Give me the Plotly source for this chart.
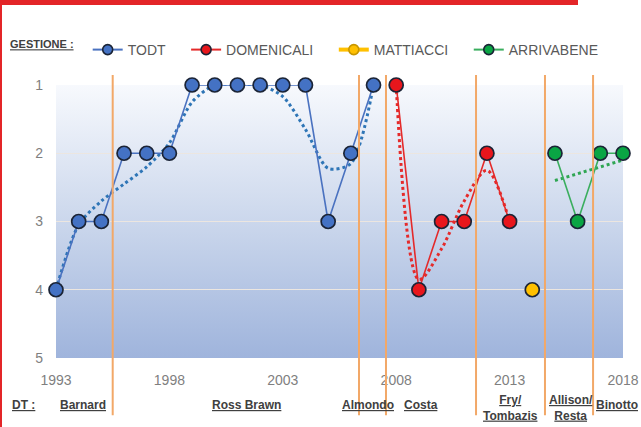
import base64
import plotly.graph_objects as go

# ---------------- data ----------------
todt_years = [1993, 1994, 1995, 1996, 1997, 1998, 1999, 2000, 2001, 2002, 2003, 2004, 2005, 2006, 2007]
todt_pos = [4, 3, 3, 2, 2, 2, 1, 1, 1, 1, 1, 1, 3, 2, 1]
todt_trend = [4.0, 3.05, 2.7, 2.45, 2.2, 1.85, 1.25, 1.0, 1.0, 1.0, 1.17, 1.65, 2.22, 2.15, 1.0]

dome_years = [2008, 2009, 2010, 2011, 2012, 2013]
dome_pos = [1, 4, 3, 3, 2, 3]
dome_trend = [1.0, 3.85, 3.4, 2.7, 2.25, 3.0]

matt_years = [2014]
matt_pos = [4]

arri_years = [2015, 2016, 2017, 2018]
arri_pos = [2, 3, 2, 2]
arri_trend_years = [2015, 2018]
arri_trend = [2.4, 2.1]

# vertical separators between technical directors (years)
dt_breaks = [1995.5, 2006.36, 2007.55, 2011.52, 2014.56, 2016.68]
dt_names = ["Barnard", "Ross Brawn", "Almondo", "Costa", "Fry/<br>Tombazis", "Allison/<br>Resta", "Binotto"]
dt_centers = [1994.2, 2001.42, 2006.76, 2009.09, 2013.06, 2015.71, 2017.74]

series_names = ["TODT", "DOMENICALI", "MATTIACCI", "ARRIVABENE"]

W, H = 641, 427
FONT = "Liberation Sans, Arial, sans-serif"
NB = "\u00a0"

C_TODT, C_DOME, C_MATT, C_ARRI = "#4472C4", "#E8161C", "#FFC000", "#0AA544"
L_TODT, L_DOME, L_ARRI = "#4A72C0", "#E42A2A", "#3AAE5E"

fig = go.Figure()

# trend lines (dotted)
fig.add_trace(go.Scatter(x=todt_years, y=todt_trend, mode="lines", line=dict(color="#2E75B6", width=3, dash="dot", shape="spline", smoothing=0.8), showlegend=False, hoverinfo="skip", cliponaxis=False))
fig.add_trace(go.Scatter(x=dome_years, y=dome_trend, mode="lines", line=dict(color="#E52A2A", width=3, dash="dot", shape="spline", smoothing=0.9), showlegend=False, hoverinfo="skip", cliponaxis=False))
fig.add_trace(go.Scatter(x=arri_trend_years, y=arri_trend, mode="lines", line=dict(color="#2FA653", width=3, dash="dot"), showlegend=False, hoverinfo="skip", cliponaxis=False))

mk_line = dict(color="#1B2436", width=1.7)
fig.add_trace(go.Scatter(x=todt_years, y=todt_pos, mode="lines+markers", showlegend=False,
                         line=dict(color=L_TODT, width=1.6),
                         marker=dict(size=14, color=C_TODT, line=mk_line), cliponaxis=False))
fig.add_trace(go.Scatter(x=dome_years, y=dome_pos, mode="lines+markers", showlegend=False,
                         line=dict(color=L_DOME, width=1.6),
                         marker=dict(size=14, color=C_DOME, line=mk_line), cliponaxis=False))
fig.add_trace(go.Scatter(x=matt_years, y=matt_pos, mode="lines+markers", showlegend=False,
                         line=dict(color=C_MATT, width=3),
                         marker=dict(size=14, color=C_MATT, line=mk_line), cliponaxis=False))
fig.add_trace(go.Scatter(x=arri_years, y=arri_pos, mode="lines+markers", showlegend=False,
                         line=dict(color=L_ARRI, width=1.6),
                         marker=dict(size=14, color=C_ARRI, line=mk_line), cliponaxis=False))

# legend entries (smaller symbols like the reference)
leg_styles = [
    (L_TODT, 2, C_TODT, "#1B2436"),
    (L_DOME, 2, C_DOME, "#1B2436"),
    (C_MATT, 4, C_MATT, "#C89600"),
    (L_ARRI, 2, C_ARRI, "#1B2436"),
]
for name, (lc, lw, mc, mlc) in zip(series_names, leg_styles):
    fig.add_trace(go.Scatter(x=[None], y=[None], mode="lines+markers", name=name + NB * 4,
                             line=dict(color=lc, width=lw),
                             marker=dict(size=10, color=mc, line=dict(color=mlc, width=1.6))))

shapes = []
# director change lines
for b in dt_breaks:
    shapes.append(dict(type="line", xref="x", yref="paper", x0=b, x1=b, y0=-0.21, y1=1.037,
                       line=dict(color="#F2A868", width=2), layer="above"))
# red frame bits
shapes.append(dict(type="rect", xref="paper", yref="paper",
                   x0=-56 / 567, x1=(578 - 56) / 567, y0=(358 - 0) / 273, y1=(358 - 5) / 273,
                   fillcolor="#E32528", line=dict(width=0)))
shapes.append(dict(type="rect", xref="paper", yref="paper",
                   x0=-56 / 567, x1=(2 - 56) / 567, y0=(358 - 0) / 273, y1=(358 - 427) / 273,
                   fillcolor="#E32528", line=dict(width=0)))

annotations = [dict(text="<b><u>DT :</u></b>", xref="paper", yref="paper",
                    x=(10 - 56) / 567, y=(358 - 405) / 273, xanchor="left", yanchor="middle",
                    showarrow=False, font=dict(family=FONT, size=12, color="#404040"))]
for name, cx in zip(dt_names, dt_centers):
    two = "<br>" in name
    annotations.append(dict(text="<b><u>" + name.replace("<br>", "</u></b><br><b><u>") + "</u></b>",
                            xref="x", yref="paper", x=cx, y=(358 - (408 if two else 405)) / 273,
                            xanchor="center", yanchor="middle", showarrow=False,
                            font=dict(family=FONT, size=12, color="#404040")))

# gradient background for the plot area (SVG image)
svg = ("<svg xmlns='http://www.w3.org/2000/svg' width='100' height='100' preserveAspectRatio='none'>"
       "<defs><linearGradient id='g' x1='0' y1='0' x2='0' y2='1'>"
       "<stop offset='0' stop-color='#F7F9FD'/><stop offset='0.5' stop-color='#CBD7EC'/>"
       "<stop offset='1' stop-color='#9FB4DC'/></linearGradient></defs>"
       "<rect width='100' height='100' fill='url(#g)'/></svg>")
src = "data:image/svg+xml;base64," + base64.b64encode(svg.encode()).decode()

fig.update_layout(
    width=W, height=H,
    margin=dict(l=56, r=18, t=85, b=69, autoexpand=False),
    paper_bgcolor="white", plot_bgcolor="white",
    font=dict(family=FONT, color="#595959"),
    shapes=shapes, annotations=annotations,
    images=[dict(source=src, xref="paper", yref="paper", x=0, y=1, sizex=1, sizey=1,
                 xanchor="left", yanchor="top", sizing="stretch", layer="below")],
    legend=dict(orientation="h", xref="container", yref="container",
                x=8 / W, y=1 - 50 / H, xanchor="left", yanchor="middle",
                title=dict(text="<b><u>GESTIONE :</u></b>" + NB * 2,
                           font=dict(family=FONT, size=11, color="#404040")),
                font=dict(family=FONT, size=14, color="#595959"),
                itemsizing="trace", bgcolor="rgba(0,0,0,0)"),
    xaxis=dict(range=[1993, 2018], tick0=1993, dtick=5, showgrid=False, zeroline=False,
               showline=False, ticks="", ticklabelstandoff=12,
               tickfont=dict(family=FONT, size=14, color="#7F7F7F")),
    yaxis=dict(range=[5, 1], tickvals=[1, 2, 3, 4, 5], showgrid=True, gridcolor="#ECE6E0",
               gridwidth=1, zeroline=False, showline=False, ticks="", ticklabelstandoff=12,
               tickfont=dict(family=FONT, size=14, color="#7F7F7F")),
)

fig.write_html("out.html")
